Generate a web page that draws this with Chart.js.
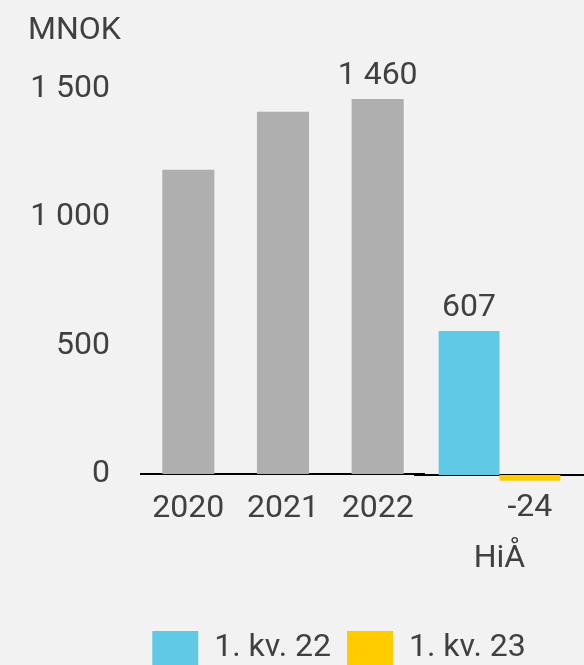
<!DOCTYPE html>
<html>
<head>
<meta charset="utf-8">
<script src="https://cdn.jsdelivr.net/npm/chart.js@4"></script>
<style>
  html, body { margin: 0; padding: 0; background: #f2f2f2; overflow: hidden; }
  #wrap { position: relative; width: 584px; height: 665px; }
  canvas { position: absolute; left: 0; top: 0; }
</style>
</head>
<body>
<div id="wrap">
  <canvas id="years" width="425" height="560"></canvas>
  <canvas id="hia" width="584" height="675"></canvas>
</div>
<script>
// år
var yearLabels = ['2020', '2021', '2022'];
var yearValues = [1185, 1410, 1460];
var yearShowValue = [false, false, true];
var yTicks = [0, 500, 1000, 1500];

// hittil i år
var hiaLabels = ['HiÅ'];
var q1_22 = [607];
var q1_23 = [-24];
var seriesNames = ['1. kv. 22', '1. kv. 23'];

var textColor = '#404040';
var fontFamily = 'Roboto, "Noto Sans", sans-serif';
Chart.defaults.font.family = fontFamily;
Chart.defaults.font.size = 32;
Chart.defaults.color = textColor;

function fmt(v) {
    var s = String(Math.abs(v)).replace(/\B(?=(\d{3})+(?!\d))/g, ' ');
    return (v < 0 ? '-' : '') + s;
}

// tegner verdien over / under søylen
var valueLabels = {
    id: 'valueLabels',
    afterDatasetsDraw(chart) {
        var ctx = chart.ctx;
        ctx.save();
        ctx.font = '32px ' + fontFamily;
        ctx.fillStyle = textColor;
        ctx.textAlign = 'center';
        ctx.textBaseline = 'middle';
        chart.data.datasets.forEach(function (ds, i) {
            var meta = chart.getDatasetMeta(i);
            meta.data.forEach(function (bar, j) {
                if (ds.show && !ds.show[j]) return;
                var v = ds.data[j];
                var y = v >= 0 ? bar.y - 23 : bar.y + 27;
                ctx.fillText(fmt(v), bar.x, y);
            });
        });
        ctx.restore();
    }
};

new Chart(document.getElementById('years'), {
    type: 'bar',
    data: {
        labels: yearLabels,
        datasets: [{
            data: yearValues,
            show: yearShowValue,
            backgroundColor: '#afafaf',
            barPercentage: 0.55,
            categoryPercentage: 1
        }]
    },
    options: {
        responsive: false,
        animation: false,
        layout: { padding: { left: 28, right: 0, top: 0, bottom: 0 } },
        plugins: {
            legend: { display: false },
            tooltip: { enabled: false },
            title: {
                display: true,
                text: 'MNOK',
                align: 'start',
                color: textColor,
                font: { size: 32, weight: 'normal', lineHeight: 1.2 },
                padding: { top: 6, bottom: 0 }
            }
        },
        scales: {
            x: {
                grid: { display: false },
                border: { display: true, color: '#000', width: 2 },
                ticks: { padding: 8, color: textColor },
                afterFit(scale) { scale.height = 560 - 474; }
            },
            y: {
                min: 0,
                max: 1650,
                grid: { display: false, drawTicks: false },
                border: { display: false },
                ticks: {
                    padding: 31,
                    color: textColor,
                    callback: function (v) { return fmt(v); }
                },
                afterBuildTicks(scale) {
                    scale.ticks = yTicks.map(function (v) { return { value: v }; });
                },
                afterFit(scale) { scale.width = 113; }
            }
        }
    },
    plugins: [valueLabels]
});

new Chart(document.getElementById('hia'), {
    type: 'bar',
    data: {
        labels: hiaLabels,
        datasets: [{
            label: seriesNames[0],
            data: q1_22,
            backgroundColor: '#5fc9e6'
        }, {
            label: seriesNames[1],
            data: q1_23,
            backgroundColor: '#ffcc00'
        }]
    },
    options: {
        responsive: false,
        animation: false,
        layout: { padding: { left: 94, right: 0, top: 63, bottom: 0 } },
        datasets: { bar: { barPercentage: 1, categoryPercentage: 0.72 } },
        plugins: {
            tooltip: { enabled: false },
            legend: {
                position: 'bottom',
                labels: {
                    boxWidth: 46,
                    boxHeight: 34,
                    padding: 16,
                    color: textColor,
                    font: { size: 32 }
                }
            }
        },
        scales: {
            x: {
                position: { y: 0 },
                grid: { display: false },
                border: { display: true, color: '#000', width: 2 },
                ticks: { padding: 57, color: textColor }
            },
            y: {
                min: -590,
                max: 1737,
                grid: { display: false, drawTicks: false },
                border: { display: false },
                ticks: { display: false },
                afterFit(scale) { scale.width = 321; }
            }
        }
    },
    plugins: [valueLabels]
});
</script>
</body>
</html>
